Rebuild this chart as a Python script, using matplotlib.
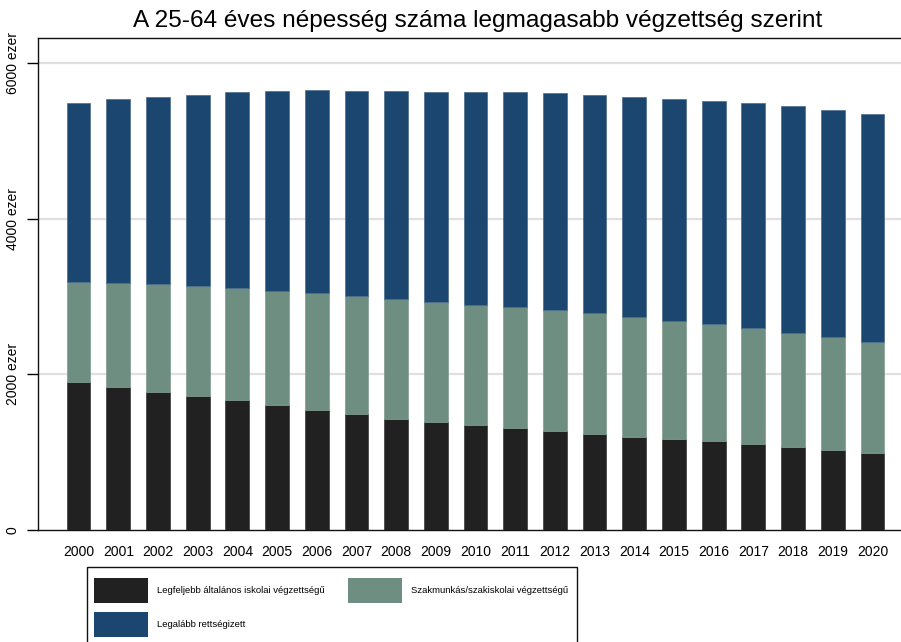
import matplotlib.pyplot as plt
from matplotlib.patches import Rectangle

# Adatok (ezer fő), leolvasva az ábráról
evek = list(range(2000, 2021))
altalanos = [1898, 1834, 1774, 1722, 1669, 1603, 1542, 1489, 1427, 1382, 1347,
             1313, 1273, 1240, 1199, 1166, 1144, 1105, 1067, 1028, 990]
szakmunkas = [1290, 1341, 1384, 1410, 1436, 1469, 1504, 1519, 1548, 1549, 1545,
              1553, 1555, 1543, 1536, 1524, 1506, 1491, 1469, 1449, 1426]
erettsegi = [2300, 2361, 2404, 2459, 2521, 2566, 2605, 2639, 2672, 2695, 2738,
             2764, 2789, 2808, 2831, 2850, 2864, 2892, 2910, 2917, 2927]

cimkek = ['Legfeljebb általános iskolai végzettségű',
          'Szakmunkás/szakiskolai végzettségű',
          'Legalább rettségizett']
szinek = ['#212121', '#6d8e80', '#1b466f']
yticks = [0, 2000, 4000, 6000]
ytick_cimkek = ['0', '2000 ezer', '4000 ezer', '6000 ezer']

plt.rcParams['font.family'] = ['Liberation Sans', 'DejaVu Sans']

fig = plt.figure(figsize=(9.01, 6.42), dpi=100)
ax = fig.add_axes([37.7 / 901, 1 - 530 / 642, 1 - 37.7 / 901, (530 - 38) / 642])

also = [a + s for a, s in zip(altalanos, szakmunkas)]
ax.bar(evek, altalanos, width=0.6, color=szinek[0], edgecolor='#3a3a3a', linewidth=0.5, zorder=3)
ax.bar(evek, szakmunkas, width=0.6, bottom=altalanos, color=szinek[1], edgecolor='#7f9c90', linewidth=0.5, zorder=3)
ax.bar(evek, erettsegi, width=0.6, bottom=also, color=szinek[2], edgecolor='#4a6c8c', linewidth=0.5, zorder=3)

ax.set_xlim(2000 - 1.03, 2020 + 0.72)
ax.set_ylim(0, 6324)
ax.set_yticks(yticks)
ax.set_yticklabels(ytick_cimkek, rotation=90, va='center', fontsize=10)
ax.set_xticks(evek)
ax.set_xticklabels([str(e) for e in evek], fontsize=10)
ax.tick_params(axis='x', length=0, pad=11)
ax.tick_params(axis='y', length=8, width=1, pad=5)
for y in yticks[1:]:
    ax.axhline(y, color='#e0e0e0', linewidth=1.6, zorder=1)
for s in ['left', 'top', 'bottom']:
    ax.spines[s].set_linewidth(1.0)
    ax.spines[s].set_color('#111111')
ax.spines['right'].set_visible(False)

fig.text(478 / 901, 1 - 21 / 642, 'A 25-64 éves népesség száma legmagasabb végzettség szerint',
         ha='center', va='center', fontsize=17.6)

# Jelmagyarázat
fig.add_artist(Rectangle((86.7 / 901, -0.01), (576.7 - 86.7) / 901, 0.01 + (642 - 566.7) / 642,
                         transform=fig.transFigure, facecolor='white', edgecolor='#111111', linewidth=1.0))
poz = [(94, 577.7), (347.7, 577.7), (94, 611.7)]
for (x, y), c, t in zip(poz, szinek, cimkek):
    fig.add_artist(Rectangle((x / 901, 1 - (y + 25) / 642), 54 / 901, 25 / 642,
                             transform=fig.transFigure, facecolor=c, edgecolor='none'))
    fig.text((x + 63) / 901, 1 - (y + 12.5) / 642, t, ha='left', va='center', fontsize=6.8)

fig.savefig('out.png', dpi=100)
